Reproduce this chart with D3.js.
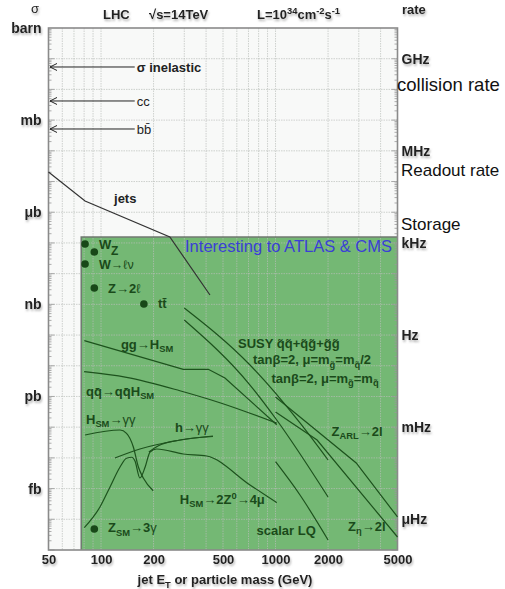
<!DOCTYPE html>
<html><head><meta charset="utf-8">
<script src="https://cdn.jsdelivr.net/npm/d3@7"></script>
<style>
html,body{margin:0;padding:0;background:#fff;}
svg{display:block;font-family:"Liberation Sans",Arial,Helvetica,sans-serif;}
</style></head><body>
<svg id="c" width="505" height="589"></svg>
<script>
// ---------------- data ----------------
const massTicks=[50,100,200,500,1000,2000,5000];
const sigmaTickValues=[1,1e-3,1e-6,1e-9,1e-12,1e-15];
const sigmaTickLabels=["barn","mb","μb","nb","pb","fb"];
const rateTickValues=[1e9,1e6,1e3,1,1e-3,1e-6];
const rateTickLabels=["GHz","MHz","kHz","Hz","mHz","μHz"];
const luminosity=1e34; // cm^-2 s^-1
const barnToCm2=1e-24;

const arrowNames=["σ inelastic","cc","bb̄"];
const arrowSigma=[0.0537,4.2e-3,5.14e-4];
const arrowEndMass=156;

const regionMinMass=77, regionMaxSigma=1.56e-7;

// curves: [mass GeV, sigma barn]
const jets=[[50,2.04e-5],[81,2.32e-6],[248,1.56e-7],[421,2.02e-9]];
const ggH=[[80.2,6.55e-11],[296,7.67e-12],[412,7.67e-12],[513,4.0e-12],[1016,1.2e-13]];
const qqH=[[80,6.41e-12],[140,4.21e-12],[283,1.54e-12],[480,6.27e-13],[1016,1.35e-13]];
const hsmGamGam=[[81,5.56e-14],[128.5,8.1e-14],[140,6.32e-14],[153,2.31e-14],[163.5,5.16e-15],[175,2.16e-15],[199,8.5e-16]];
const hsm4mu=[[80.2,5.32e-17],[98.6,2.51e-16],[112.6,1.13e-15],[128.5,5.05e-15],[140,9.7e-15],[150,1.05e-14],[156.5,7.92e-15],[167,2.21e-15],[179,5.05e-15],[191,1.56e-14],[208.5,1.95e-14],[296,1.34e-14],[403,1.15e-14],[714,1.31e-15],[1016,3.47e-16]];
const hGamGamA=[[120,9.9e-15],[167,1.95e-14],[265,3.55e-14],[438,5.16e-14]];
const hGamGamB=[[188,1.56e-14],[212,2.44e-14],[283,3.82e-14],[438,4.97e-14]];
const susyHalf=[[300,7.61e-10],[714,1.06e-11],[1381,1.37e-13],[2000,8.53e-15]];
const susyEq=[[300,3.09e-10],[714,2.36e-12],[1016,1.71e-13],[2000,5.32e-16]];
const zARL=[[1000,9.6e-13],[2900,6.81e-15],[5000,1.19e-16]];
const zEta=[[1000,3.12e-13],[1730,3.82e-14],[5000,2.65e-17]];
const scalarLQ=[[1000,7.51e-15],[1381,6.18e-16],[2000,2.12e-17]];

// processes drawn as points
const pointMass=[81,91.5,81,91.5,176,91.5];
const pointSigma=[9.24e-8,5.07e-8,2.06e-8,3.41e-9,1.03e-9,4.83e-17];

// ---------------- chart ----------------
const svg=d3.select("#c");
const x=d3.scaleLog().domain([50,5000]).range([48.5,397.5]);
const y=d3.scaleLog().domain([1,1e-17]).range([28,550]);
const yRate=d3.scaleLog().domain(y.domain().map(s=>s*barnToCm2*luminosity)).range(y.range());
const X0=x.range()[0],X1=x.range()[1],Y0=y.range()[0],Y1=y.range()[1];

const defs=svg.append("defs");
const f=defs.append("filter").attr("id","sh").attr("x","-20%").attr("y","-30%").attr("width","150%").attr("height","180%");
f.append("feDropShadow").attr("dx",1).attr("dy",2).attr("stdDeviation",1.3).attr("flood-color","#777").attr("flood-opacity",0.55);
defs.append("marker").attr("id","arr").attr("viewBox","-8 -5 9 10").attr("refX",0).attr("refY",0)
  .attr("markerWidth",9).attr("markerHeight",10).attr("markerUnits","userSpaceOnUse").attr("orient","auto")
  .append("path").attr("d","M-7,-3.5L0,0L-7,3.5").attr("fill","none").attr("stroke","#222").attr("stroke-width",1);

// background
svg.append("rect").attr("x",X0).attr("y",Y0).attr("width",X1-X0).attr("height",Y1-Y0).attr("fill","#f8f9f8");
// green region
svg.append("rect").attr("x",x(regionMinMass)).attr("y",y(regionMaxSigma))
  .attr("width",X1-x(regionMinMass)).attr("height",Y1-y(regionMaxSigma)).attr("fill","#74b874");

// grid
const grid=svg.append("g").attr("stroke","#b9beb9").attr("stroke-opacity",0.75).attr("stroke-width",0.9).attr("stroke-dasharray","1.5,1");
x.ticks().filter(v=>v>50&&v<5000).forEach(v=>{
  grid.append("line").attr("x1",x(v)).attr("x2",x(v)).attr("y1",Y0).attr("y2",Y1);
});
d3.range(-16,0).forEach(e=>{
  const v=Math.pow(10,e);
  grid.append("line").attr("x1",X0).attr("x2",X1).attr("y1",y(v)).attr("y2",y(v));
});
// minor ticks left/right
const tk=svg.append("g").attr("stroke","#999").attr("stroke-width",0.8);
d3.range(-17,0).forEach(e=>{
  d3.range(1,10).forEach(k=>{
    const v=k*Math.pow(10,e); if(v>=1) return;
    const len=k===1?6:3;
    tk.append("line").attr("x1",X0).attr("x2",X0+len).attr("y1",y(v)).attr("y2",y(v));
    tk.append("line").attr("x1",X1).attr("x2",X1-len).attr("y1",y(v)).attr("y2",y(v));
  });
});

// green region border (top & left)
svg.append("path").attr("d",`M${x(regionMinMass)},${Y1}V${y(regionMaxSigma)}H${X1}`)
  .attr("fill","none").attr("stroke","#707870").attr("stroke-width",1.5);

// frame
svg.append("rect").attr("x",X0).attr("y",Y0).attr("width",X1-X0).attr("height",Y1-Y0)
  .attr("fill","none").attr("stroke","#8a8a8a").attr("stroke-width",1.6);

// curves
const line=d3.line().x(d=>x(d[0])).y(d=>y(d[1]));
const smooth=d3.line().x(d=>x(d[0])).y(d=>y(d[1])).curve(d3.curveMonotoneX);
svg.append("path").datum(jets).attr("d",line).attr("fill","none").attr("stroke","#333").attr("stroke-width",1.2);
const greenLines=[[ggH,line],[qqH,smooth],[hsmGamGam,smooth],[hsm4mu,smooth],[hGamGamA,smooth],[hGamGamB,smooth],
  [susyHalf,smooth],[susyEq,smooth],[zARL,line],[zEta,line],[scalarLQ,smooth]];
greenLines.forEach(([d,gen])=>{
  svg.append("path").datum(d).attr("d",gen).attr("fill","none").attr("stroke","#1d521d").attr("stroke-width",1.2);
});

// points
svg.append("g").selectAll("circle").data(pointMass).join("circle")
  .attr("cx",d=>x(d)).attr("cy",(d,i)=>y(pointSigma[i])).attr("r",3.8).attr("fill","#184818");

// arrows
arrowSigma.forEach((s,i)=>{
  svg.append("line").attr("x1",x(arrowEndMass)).attr("x2",X0+1.5).attr("y1",y(s)).attr("y2",y(s))
    .attr("stroke","#222").attr("stroke-width",1).attr("marker-end","url(#arr)");
  svg.append("text").attr("x",x(arrowEndMass)+2).attr("y",y(s)).attr("dy","0.36em")
    .attr("font-size",13).attr("font-weight",i===0?"bold":"normal").attr("fill","#222").text(arrowNames[i]);
});

// rich text helper
function rich(g,segs,px,py,opt){
  const t=g.append("text").attr("x",px).attr("y",py)
    .attr("font-size",opt.size||13).attr("font-weight",opt.weight||"bold").attr("fill",opt.fill||"#1a4a1a");
  if(opt.anchor) t.attr("text-anchor",opt.anchor);
  if(opt.filter) t.attr("filter",opt.filter);
  let off=0;
  segs.forEach(s=>{
    const [str,kind]=Array.isArray(s)?s:[s,""];
    const target=kind==="sub"?3.5:kind==="sup"?-5:0;
    const ts=t.append("tspan").text(str).attr("dy",target-off);
    off=target;
    if(kind==="sub"||kind==="sup") ts.attr("font-size",(opt.size||13)*0.72);
    if(kind==="light") ts.attr("font-weight","normal");
  });
  return t;
}

// axes
const gl=svg.append("g").attr("transform",`translate(${X0},0)`)
  .call(d3.axisLeft(y).tickValues(sigmaTickValues).tickFormat((d,i)=>sigmaTickLabels[i]).tickSize(0).tickPadding(7));
const gr=svg.append("g").attr("transform",`translate(${X1},0)`)
  .call(d3.axisRight(yRate).tickValues(rateTickValues).tickFormat((d,i)=>rateTickLabels[i]).tickSize(0).tickPadding(4));
const gb=svg.append("g").attr("transform",`translate(0,${Y1})`)
  .call(d3.axisBottom(x).tickValues(massTicks).tickFormat(d3.format("d")).tickSize(0).tickPadding(5));
[gl,gr].forEach(g=>{
  g.select(".domain").remove();
  g.selectAll("text").attr("font-family","Liberation Sans, Arial, sans-serif").attr("font-size",14)
    .attr("font-weight","bold").attr("fill","#222").attr("filter","url(#sh)");
});
gb.select(".domain").remove();
gb.selectAll("text").attr("font-family","Liberation Sans, Arial, sans-serif").attr("font-size",13)
  .attr("font-weight","bold").attr("fill","#222").attr("filter","url(#sh)");

// outer texts
const out=svg.append("g");
const sh={filter:"url(#sh)",fill:"#222"};
rich(out,["σ"],35,13,{...sh,anchor:"middle",weight:"normal",size:13});
rich(out,["LHC"],103,19,{...sh});
rich(out,["√s=14TeV"],149,19,{...sh});
rich(out,["L=10",["34","sup"],"cm",["-2","sup"],"s",["-1","sup"]],257,19,{...sh});
rich(out,["rate"],402,14,{...sh});
rich(out,["jet E",["T","sub"]," or particle mass (GeV)"],225,584,{...sh,anchor:"middle"});
rich(out,["collision rate"],397,91,{fill:"#111",weight:"normal",size:18.5});
rich(out,["Readout rate"],401,176,{fill:"#111",weight:"normal",size:17});
rich(out,["Storage"],401,230,{fill:"#111",weight:"normal",size:17});

// annotation labels inside plot, anchored in data coordinates [mass, sigma]
const lab=svg.append("g");
const place=(segs,m,s,opt={})=>rich(lab,segs,x(m),y(s),opt);
place(["jets"],118.7,2.0e-6,{fill:"#222"});
place(["Interesting to ATLAS & CMS"],303,5.07e-8,{fill:"#3b3fd6",weight:"normal",size:16.5});
place(["W"],97.4,6.35e-8);
place(["Z"],114,4.1e-8,{size:12});
place(["W→",["ℓν","light"]],97.4,1.42e-8,{size:12.5});
place(["Z→2",["ℓ","light"]],109.6,2.43e-9);
place(["tt̄"],212,7.6e-10);
place(["gg→H",["SM","sub"]],130,3.52e-11);
place(["qq̄→qq̄H",["SM","sub"]],82,1.04e-12);
place(["H",["SM","sub"],["→γγ","light"]],82,1.27e-13);
place(["h→",["γγ","light"]],265,6.97e-14);
place(["SUSY q̃q̃+q̃g̃+g̃g̃"],610,3.65e-11);
place(["tanβ=2, μ=m",["g̃","sub"],"=m",["q̃","sub"],"/2"],743,1.1e-11);
place(["tanβ=2, μ=m",["g̃","sub"],"=m",["q̃","sub"]],948,2.85e-12);
place(["Z",["ARL","sub"],"→2l"],2093,5.16e-14);
place(["H",["SM","sub"],"→2Z",["0","sup"],"→4μ"],283,3.15e-16);
place(["scalar LQ"],778,3.08e-17);
place(["Z",["η","sub"],"→2l"],2603,4.16e-17);
place(["Z",["SM","sub"],"→3",["γ","light"]],109.6,3.72e-17);
</script>
</body></html>
